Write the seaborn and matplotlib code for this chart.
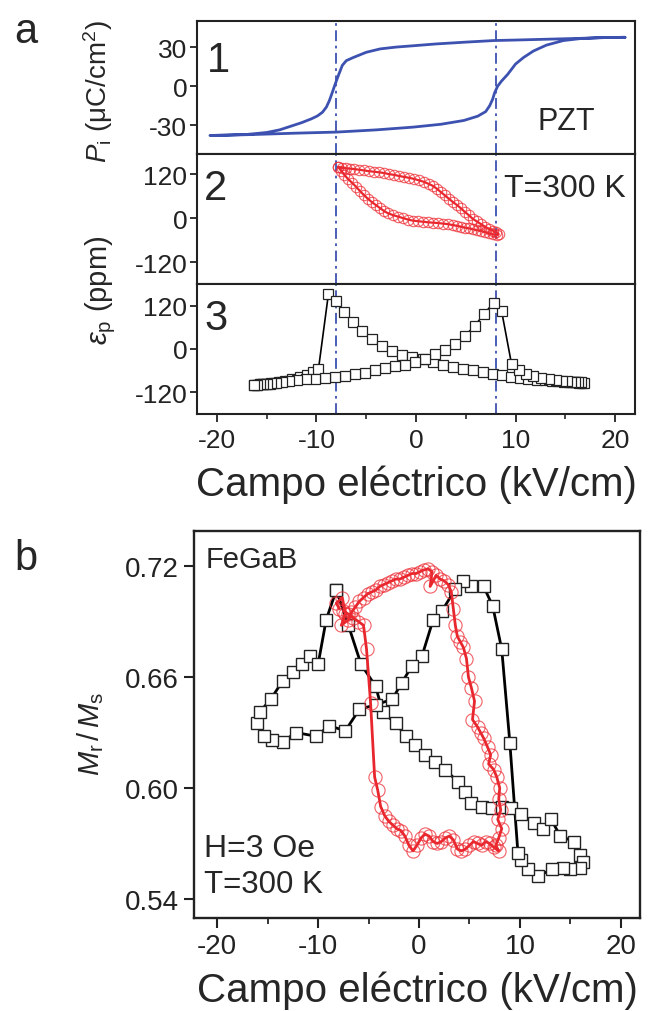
import matplotlib
matplotlib.use("Agg")
import matplotlib.pyplot as plt
import numpy as np
import pandas as pd
import seaborn as sns

# ---------------- data ----------------
# panel a-1 : polarisation loop (kV/cm, uC/cm2)
pe_E = [21.0, 19.0, 16.5, 14.0, 12.0, 10.0, 7.8, 5.0, 2.0, -0.3, -2.0, -3.6, -5.0, -6.3, -7.0, -7.4,
        -7.8, -8.1, -8.4, -8.7, -9.0, -9.4, -9.9, -10.5, -11.5, -12.5, -13.7, -15.0, -17.0, -20.7,
        -19.0, -17.0, -15.3, -12.0, -8.0, -4.0, -0.3, 2.5, 4.8, 6.2, 7.0, 7.4, 7.7, 7.9, 8.2, 8.6,
        9.2, 10.0, 10.8, 11.8, 13.1, 14.8, 16.5, 18.5, 21.0]
pe_P = [37.5, 37.3, 36.7, 36.2, 35.8, 35.4, 35.0, 33.8, 32.4, 31.0, 30.0, 28.6, 26.0, 22.0, 19.6, 16.0,
        8.2, 2.0, -4.6, -11.0, -16.0, -20.0, -22.8, -25.0, -28.0, -30.5, -33.5, -35.5, -37.0, -37.8,
        -37.6, -37.2, -36.8, -36.0, -35.2, -33.5, -31.4, -29.2, -26.3, -23.0, -19.5, -15.0, -10.0, -5.0,
        0.0, 4.0, 9.0, 17.0, 22.0, 27.0, 31.5, 35.0, 36.5, 37.2, 37.5]

# panel a-2 : strain loop (ppm), red circles
st_E = [-7.8, -7.4, -7.0, -6.6, -6.2, -5.7, -5.2, -4.7, -4.2, -3.7, -3.2, -2.7, -2.2, -1.7, -1.2, -0.7,
        -0.2, 0.3, 0.8, 1.3, 1.7, 2.1, 2.5, 2.9, 3.3, 3.7, 4.1, 4.5, 4.9, 5.3, 5.7, 6.1, 6.5, 6.9, 7.3,
        7.7, 8.0, 8.3,
        8.1, 7.7, 7.3, 6.9, 6.5, 6.1, 5.7, 5.3, 4.9, 4.5, 4.1, 3.7, 3.2, 2.7, 2.2, 1.7, 1.2, 0.7, 0.2,
        -0.3, -0.8, -1.3, -1.8, -2.3, -2.8, -3.2, -3.6, -4.0, -4.4, -4.8, -5.2, -5.6, -6.0, -6.4, -6.8,
        -7.2, -7.5, -7.8]
st_S = [140, 137, 136, 135, 134, 132, 130, 128, 126.5, 125, 123, 120, 118, 115, 112.5, 110,
        107, 103, 99, 93, 88, 80, 71, 62, 53, 44, 36, 27, 17, 8, -2, -9, -16, -23, -29,
        -34, -38, -44,
        -47, -44, -41, -38, -35.5, -33, -30.5, -28, -26, -23.5, -21, -19, -16.5, -15, -13.5, -12.5,
        -11.5, -10, -8.5, -7, -4, 0, 4, 8, 13, 19, 27, 35, 43, 52, 62, 73, 85, 96, 106,
        118, 129, 139]

# panel a-3 : butterfly strain (ppm), black squares
b1_E = [-16.3, -16.0, -15.7, -15.4, -15.1, -14.7, -14.3, -13.8, -13.2, -12.5, -11.7, -11.0, -10.3, -9.8,
        -8.8, -8.0, -7.2, -6.3, -5.4, -4.4, -3.4, -2.4, -1.4, -0.4, 0.7, 1.7, 2.7, 3.7, 4.7, 5.7,
        6.7, 7.7, 8.6, 9.5, 10.4, 11.3, 12.2, 13.0, 13.7, 14.3, 14.9, 15.4, 15.8, 16.1, 16.4, 16.7]
b1_S = [-100, -99, -98, -97.5, -97, -96, -94, -92, -89, -84, -78, -73, -64, -56,
        152, 132, 102, 76, 50, 28, 9, -6, -16, -23, -28, -36, -44, -50, -55, -59,
        -64, -68, -73, -77, -79, -82, -85, -87, -88, -89, -90, -91, -92, -92, -93, -93]
b2_E = [16.9, 16.6, 16.3, 16.0, 15.6, 15.2, 14.7, 14.1, 13.4, 12.6, 11.8, 11.0, 10.3, 9.6,
        8.6, 7.8, 6.8, 5.9, 4.9, 3.9, 2.9, 1.9, 0.9, -0.1, -1.1, -2.1, -3.1, -4.1, -5.1, -6.1,
        -7.1, -8.1, -9.1, -10.1, -11.1, -12.0, -12.8, -13.5, -14.1, -14.6, -15.0, -15.4, -15.7, -16.0, -16.3]
b2_S = [-93, -92, -92, -91, -90, -89, -88, -86, -84, -80, -75, -68, -58, -42,
        105, 128, 96, 64, 36, 14, -4, -14, -27, -36, -44, -48, -53, -59, -66, -70,
        -75, -78, -80, -82, -84, -87, -89, -91, -93, -95, -96, -97, -98, -99, -100]

# panel b : Mr/Ms, black squares
mb_E = [-8.2, -7.0, -5.75, -4.3, -3.6, -2.3, -1.3, -0.36, 0.6, 1.6, 2.6, 3.9, 4.6, 5.2, 6.2, 7.2,
        8.2, 9.1, 10.1, 11.4, 12.3, 13.1, 14.0, 15.4, 16.0, 16.3, 16.0, 15.0, 14.3, 13.2, 11.8,
        10.8, 10.1, 9.8, 9.0, 8.2, 7.3, 6.4, 5.2, 4.4, 3.6, 2.3, 1.4, 0.3, -0.7, -1.7, -2.65,
        -4.3, -5.9, -7.3, -8.9, -10.2, -12.2, -13.5, -14.6, -15.4, -16.1, -15.8, -14.7, -13.5,
        -12.5, -11.6, -10.8, -10.0, -9.2, -8.2]
mb_M = [0.707, 0.688, 0.667, 0.655, 0.641, 0.635, 0.628, 0.623, 0.618, 0.614, 0.610, 0.603, 0.598,
        0.592, 0.590, 0.589, 0.590, 0.589, 0.586, 0.581, 0.578, 0.583, 0.574, 0.571, 0.564, 0.560,
        0.557, 0.556, 0.557, 0.556, 0.5525, 0.556, 0.561, 0.565, 0.6246, 0.675, 0.6985, 0.709,
        0.709, 0.712, 0.7076, 0.696, 0.691, 0.6715, 0.666, 0.657, 0.648, 0.645, 0.6426, 0.631,
        0.6336, 0.628, 0.630, 0.625, 0.626, 0.628, 0.635, 0.641, 0.648, 0.658, 0.663, 0.667,
        0.6715, 0.667, 0.691, 0.707]

# panel b : Mr/Ms, red circles
rb_E = [-7.9, -8.2, -7.6, -7.3, -7.7, -7.0, -6.7, -6.3, -5.9, -5.5, -5.1, -4.7, -4.3, -3.9, -3.5,
        -3.1, -2.7, -2.3, -1.9, -1.5, -1.1, -0.7, -0.3, 0.1, 0.5, 0.9, 1.3, 1.1, 1.7, 2.1, 2.5,
        2.9, 3.2, 3.4, 3.6, 3.8, 4.1, 4.4, 4.7, 4.9, 5.2, 5.5, 5.3, 5.8, 6.1, 6.4, 6.8, 7.1, 6.9,
        7.4, 7.7, 8.0, 7.9, 8.1, 7.8, 8.2, 7.9, 7.6, 7.9,
        7.4, 7.0, 6.6, 6.2, 5.8, 5.4, 5.0, 4.6, 4.2, 3.8, 3.4, 3.0, 2.6, 2.2, 1.8, 1.4, 1.0, 0.6,
        0.2, -0.2, -0.6, -1.0, -1.4, -1.8, -2.2, -2.6, -3.0, -3.4, -3.8, -4.1, -4.4, -4.8, -5.2,
        -5.5, -6.0, -6.5, -7.0, -7.5]
rb_M = [0.697, 0.700, 0.703, 0.694, 0.688, 0.691, 0.695, 0.698, 0.701, 0.703, 0.705, 0.706, 0.707,
        0.709, 0.710, 0.711, 0.712, 0.713, 0.713, 0.714, 0.715, 0.716, 0.716, 0.717, 0.718, 0.7185,
        0.717, 0.709, 0.715, 0.713, 0.712, 0.710, 0.706, 0.697, 0.688, 0.682, 0.679, 0.676, 0.670,
        0.660, 0.654, 0.647, 0.637, 0.633, 0.630, 0.627, 0.622, 0.618, 0.613, 0.610, 0.606, 0.600,
        0.594, 0.588, 0.583, 0.578, 0.573, 0.569, 0.566,
        0.568, 0.570, 0.571, 0.569, 0.570, 0.571, 0.569, 0.567, 0.566, 0.567, 0.572, 0.574, 0.573,
        0.571, 0.570, 0.571, 0.574, 0.575, 0.573, 0.569, 0.566, 0.569, 0.574, 0.577, 0.578, 0.580,
        0.582, 0.585, 0.590, 0.599, 0.606, 0.646, 0.675, 0.688, 0.690, 0.692, 0.694, 0.696]

vlines_E = [-8, 8]

# ---------------- style ----------------
sns.set_theme(style="ticks")
plt.rcParams["font.family"] = ["Liberation Sans", "DejaVu Sans"]
plt.rcParams["mathtext.fontset"] = "custom"
plt.rcParams["mathtext.rm"] = "Liberation Sans"
plt.rcParams["mathtext.it"] = "Liberation Sans:italic"
plt.rcParams["mathtext.bf"] = "Liberation Sans:bold"
plt.rcParams["axes.linewidth"] = 1.5
plt.rcParams["axes.edgecolor"] = "#222222"
plt.rcParams["axes.unicode_minus"] = False

BLUE = "#3d52b0"
RED = "#e8262d"
RED_EDGE = (0.93, 0.17, 0.2, 0.75)

W, H = 650, 1012
fig = plt.figure(figsize=(W / 100, H / 100), dpi=100)


def rect(l, t, r, b):
    return [l / W, 1 - b / H, (r - l) / W, (b - t) / H]


def ftext(px, py, s, **kw):
    kw.setdefault("va", "baseline")
    fig.text(px / W, 1 - py / H, s, **kw)


ax1 = fig.add_axes(rect(197, 22, 635, 155))
ax2 = fig.add_axes(rect(197, 155, 635, 285))
ax3 = fig.add_axes(rect(197, 285, 635, 415))
axb = fig.add_axes(rect(194, 532, 640, 919))

# panel a-1
sns.lineplot(x=pe_E, y=pe_P, sort=False, estimator=None, ax=ax1, color=BLUE, lw=2.0)
# panel a-2
sns.lineplot(x=st_E, y=st_S, sort=False, estimator=None, ax=ax2, color=RED, lw=1.6,
             marker="o", markersize=7.5, markerfacecolor="none", markeredgecolor=RED_EDGE,
             markeredgewidth=0.8)
# panel a-3
for xs, ys in [(b1_E, b1_S), (b2_E, b2_S)]:
    sns.lineplot(x=xs, y=ys, sort=False, estimator=None, ax=ax3, color="black", lw=1.2,
                 marker="s", markersize=7, markerfacecolor="white", markeredgecolor="#222222",
                 markeredgewidth=0.9)

for ax in (ax1, ax2, ax3):
    for v in vlines_E:
        ax.axvline(v, color=BLUE, lw=1.3, ls=(0, (6, 2.5, 1.5, 2.5)), zorder=1)
    ax.set_xlim(-22, 22)
    ax.set_xlabel("")
    ax.set_ylabel("")
    ax.tick_params(axis="both", which="major", direction="out", length=5, width=1.3,
                   labelsize=19, pad=2, colors="#222222")

ax1.set_ylim(-52, 50)
ax1.set_yticks([-30, 0, 30])
ax2.set_ylim(-180, 175)
ax2.set_yticks([-120, 0, 120])
ax3.set_ylim(-180, 180)
ax3.set_yticks([-120, 0, 120])
for ax in (ax1, ax2):
    ax.tick_params(axis="x", which="both", bottom=False, labelbottom=False)
ax3.set_xticks([-20, -10, 0, 10, 20])
ax3.set_xticks([-15, -5, 5, 15], minor=True)
ax3.tick_params(axis="x", which="major", length=6, pad=4)
ax3.tick_params(axis="x", which="minor", direction="out", length=3.5, width=1.2)

# panel b
sns.lineplot(x=mb_E, y=mb_M, sort=False, estimator=None, ax=axb, color="black", lw=2.0,
             marker="s", markersize=9, markerfacecolor="white", markeredgecolor="#222222",
             markeredgewidth=1.0)
sns.lineplot(x=rb_E, y=rb_M, sort=False, estimator=None, ax=axb, color=RED, lw=2.0,
             marker="o", markersize=9.5, markerfacecolor="none", markeredgecolor=RED_EDGE,
             markeredgewidth=0.8)
axb.set_xlim(-22.3, 21.9)
axb.set_ylim(0.5297, 0.739)
axb.set_xlabel("")
axb.set_ylabel("")
axb.set_yticks([0.54, 0.60, 0.66, 0.72])
axb.set_yticklabels(["0.54", "0.60", "0.66", "0.72"])
axb.set_xticks([-20, -10, 0, 10, 20])
axb.set_xticks([-15, -5, 5, 15], minor=True)
axb.tick_params(axis="both", which="major", direction="out", length=7, width=1.5,
                labelsize=20, pad=4, colors="#222222")
axb.tick_params(axis="x", which="minor", direction="out", length=4, width=1.3)
for s in axb.spines.values():
    s.set_linewidth(1.7)

# ---------------- texts ----------------
ftext(14, 43, "a", fontsize=30)
ftext(14, 570, "b", fontsize=30)
ftext(207, 72, "1", fontsize=30)
ftext(204, 200, "2", fontsize=30)
ftext(204, 330, "3", fontsize=30)
ftext(537, 130, "PZT", fontsize=22)
ftext(504, 197, "T=300 K", fontsize=23)
ftext(206, 568, "FeGaB", fontsize=21)
ftext(204, 857, "H=3 Oe", fontsize=23)
ftext(204, 893, "T=300 K", fontsize=22.5)

ftext(98, 92, r"$P_{\rm i}$ (μC/cm$^2$)", fontsize=20, rotation=90, ha="center", va="center")
ftext(101, 290, r"$\varepsilon_{\rm p}$ (ppm)", fontsize=21, rotation=90, ha="center", va="center")
ftext(91, 734, r"$M_{\rm r}\,/\,M_{\rm s}$", fontsize=21, rotation=90, ha="center", va="center")

ftext(416, 496, "Campo eléctrico (kV/cm)", fontsize=29, ha="center")
ftext(417, 1002, "Campo eléctrico (kV/cm)", fontsize=29, ha="center")

fig.savefig("out.png", dpi=100)
